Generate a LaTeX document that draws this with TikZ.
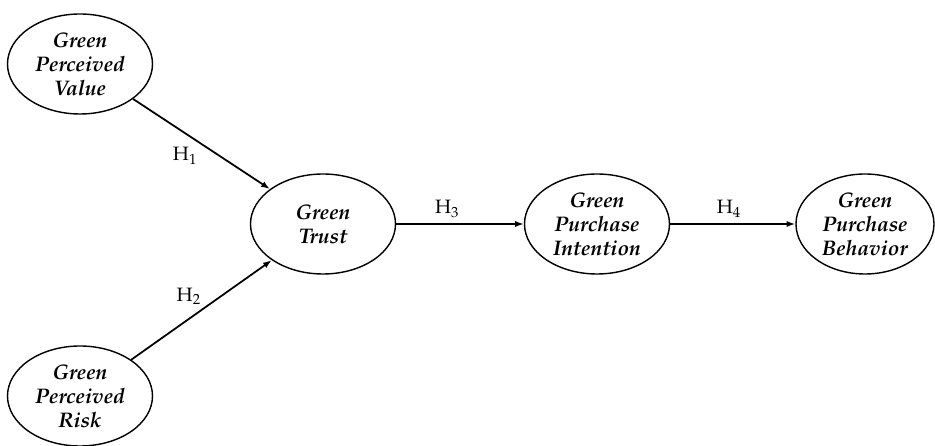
\documentclass[tikz,border=0pt]{standalone}
\usepackage[T1]{fontenc}
\usepackage{mathpazo}
\usepackage{tikz}
\usetikzlibrary{arrows.meta, shapes.geometric}

\tikzset{
construct/.style={ellipse, draw, line width=0.8pt, inner sep=0pt, minimum width=2.9cm, minimum height=2.0cm, align=center, font=\fontsize{12}{13.5}\selectfont\bfseries\itshape},
link/.style={-{Latex[length=5pt,width=3.6pt]}, line width=1pt},
hyp/.style={font=\fontsize{11}{13}\selectfont}
}

\begin{document}
\begin{tikzpicture}[scale=1.0]
\useasboundingbox (0,0) rectangle (18.7,8.92);
\node[construct] (gpv) at (1.6,7.64) {Green\\Perceived\\Value};
\node[construct] (gpr) at (1.6,1.0) {Green\\Perceived\\Risk};
\node[construct] (trust) at (6.46,4.44) {Green\\Trust};
\node[construct] (gpi) at (11.94,4.44) {Green\\Purchase\\Intention};
\node[construct, minimum width=2.76cm] (gpb) at (17.3,4.44) {Green\\Purchase\\Behavior};
\draw[link] (gpv) -- (trust) node[hyp, pos=0.38, yshift=-13pt]{H$_1$};
\draw[link] (gpr) -- (trust) node[hyp, pos=0.41, yshift=13pt]{H$_2$};
\draw[link] (trust) -- (gpi) node[hyp, pos=0.4, above]{H$_3$};
\draw[link] (gpi) -- (gpb) node[hyp, pos=0.47, above]{H$_4$};
\end{tikzpicture}
\end{document}
